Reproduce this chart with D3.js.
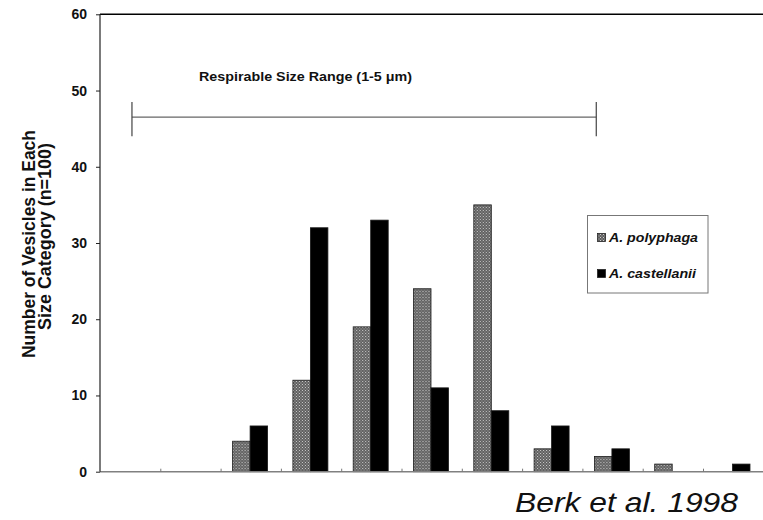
<!DOCTYPE html>
<html>
<head>
<meta charset="utf-8">
<script src="https://cdn.jsdelivr.net/npm/d3@7"></script>
<style>
  html, body { margin: 0; padding: 0; background: #fff; }
  svg { display: block; }
</style>
</head>
<body>
<svg id="chart" width="763" height="520"></svg>
<script>
// ---- data ----
const categories = ["1", "2", "3", "4", "5", "6", "7", "8", "9", "10", "11"];
const seriesNames = ["A. polyphaga", "A. castellanii"];
const polyphaga = [0, 0, 4, 12, 19, 24, 35, 3, 2, 1, 0];
const castellanii = [0, 0, 6, 32, 33, 11, 8, 6, 3, 0, 1];
const yTicks = [0, 10, 20, 30, 40, 50, 60];
const yLabelLines = ["Number of Vesicles in Each", "Size Category (n=100)"];
const rangeLabel = "Respirable Size Range (1-5 \u03BCm)";
const rangeBracket = [0.53, 8.23];   // in category-index units
const rangeLevel = 46.5;
const rangeTick = 2.5;
const citation = "Berk et al. 1998";

// ---- layout ----
const svg = d3.select("#chart");
const mLeft = 100, mRight = 763.3, mTop = 14.3, mBottom = 471.7;
const FONT = "Liberation Sans, Arial, sans-serif";

const y = d3.scaleLinear().domain([0, 60]).range([mBottom, mTop]);
const x0 = d3.scaleBand().domain(categories).range([mLeft, mRight]).paddingInner(0).paddingOuter(0);
const xLin = d3.scaleLinear().domain([0, categories.length]).range([mLeft, mRight]);
const x1 = d3.scaleBand().domain(seriesNames).range([12, 47]);

// pattern for stippled bars
const defs = svg.append("defs");
const pat = defs.append("pattern").attr("id", "stipple").attr("patternUnits", "userSpaceOnUse")
  .attr("width", 3).attr("height", 3);
pat.append("rect").attr("width", 3).attr("height", 3).attr("fill", "#5e5e5e");
pat.append("rect").attr("x", 0).attr("y", 0).attr("width", 1).attr("height", 1).attr("fill", "#cfcfcf");
pat.append("rect").attr("x", 1.5).attr("y", 1.5).attr("width", 1).attr("height", 1).attr("fill", "#bdbdbd");

const fills = { "A. polyphaga": "url(#stipple)", "A. castellanii": "#000" };
const seriesData = { "A. polyphaga": polyphaga, "A. castellanii": castellanii };

// top frame line
svg.append("line").attr("x1", mLeft).attr("x2", 763).attr("y1", y(60)).attr("y2", y(60))
  .attr("stroke", "#000").attr("stroke-width", 1.5);

// bars
const groups = svg.append("g").selectAll("g").data(categories).join("g")
  .attr("transform", d => `translate(${x0(d)},0)`);
groups.selectAll("rect")
  .data((d, i) => seriesNames.map(s => ({ s, v: seriesData[s][i] })).filter(o => o.v > 0))
  .join("rect")
  .attr("x", o => x1(o.s))
  .attr("width", x1.bandwidth())
  .attr("y", o => y(o.v))
  .attr("height", o => y(0) - y(o.v))
  .attr("fill", o => fills[o.s])
  .attr("stroke", "#1a1a1a")
  .attr("stroke-width", 0.8);

// x axis (ticks pointing up, no labels)
const xAxis = d3.axisBottom(xLin).tickValues(d3.range(1, categories.length)).tickSize(-3).tickFormat("");
const gx = svg.append("g").attr("transform", `translate(0,${y(0)})`).call(xAxis);
gx.select(".domain").attr("stroke", "#808080").attr("stroke-width", 1.5).attr("d", `M${mLeft},0H${mRight}`);
gx.selectAll(".tick line").attr("stroke", "#777");

// y axis
const yAxis = d3.axisLeft(y).tickValues(yTicks).tickSize(4).tickPadding(9).tickFormat(d3.format("d"));
const gy = svg.append("g").attr("transform", `translate(${mLeft},0)`).call(yAxis);
gy.select(".domain").attr("stroke", "#222").attr("stroke-width", 1.2).attr("d", `M0,${y(0)}V${y(60)}`);
gy.selectAll(".tick line").attr("stroke", "#222");
gy.selectAll(".tick text").attr("font-family", FONT)
  .attr("font-weight", "bold").attr("font-size", 14).attr("fill", "#111");

// y label
const yl = svg.append("g").attr("font-family", FONT)
  .attr("font-weight", "bold").attr("fill", "#111").attr("text-anchor", "middle");
yl.append("text").attr("transform", "translate(35,244) rotate(-90)").attr("font-size", 17.5)
  .attr("textLength", 228).attr("lengthAdjust", "spacingAndGlyphs").text(yLabelLines[0]);
yl.append("text").attr("transform", "translate(51,236.5) rotate(-90)").attr("font-size", 17.5)
  .attr("textLength", 187).attr("lengthAdjust", "spacingAndGlyphs").text(yLabelLines[1]);

// respirable range bracket
const br = svg.append("g").attr("stroke", "#444").attr("stroke-width", 1.2);
br.append("line").attr("x1", xLin(rangeBracket[0])).attr("x2", xLin(rangeBracket[1]))
  .attr("y1", y(rangeLevel)).attr("y2", y(rangeLevel)).attr("stroke", "#666");
rangeBracket.forEach(v => {
  br.append("line").attr("x1", xLin(v)).attr("x2", xLin(v))
    .attr("y1", y(rangeLevel + rangeTick * 0.8)).attr("y2", y(rangeLevel - rangeTick));
});
svg.append("text").attr("x", 199).attr("y", 80.7)
  .attr("font-family", FONT).attr("font-weight", "bold")
  .attr("font-size", 13).attr("textLength", 213).attr("lengthAdjust", "spacingAndGlyphs")
  .attr("fill", "#111").text(rangeLabel);

// legend
const lg = svg.append("g");
lg.append("rect").attr("x", 587.5).attr("y", 215.5).attr("width", 120.5).attr("height", 77.5)
  .attr("fill", "#fff").attr("stroke", "#777").attr("stroke-width", 1);
const legY = [242, 278];
seriesNames.forEach((s, i) => {
  lg.append("rect").attr("x", 597.5).attr("y", legY[i] - 8.5).attr("width", 8).attr("height", 8)
    .attr("fill", fills[s]).attr("stroke", "#222").attr("stroke-width", 0.8);
  lg.append("text").attr("x", 609).attr("y", legY[i])
    .attr("font-family", FONT).attr("font-weight", "bold")
    .attr("font-style", "italic").attr("font-size", 13.5)
    .attr("textLength", i === 0 ? 89 : 87).attr("lengthAdjust", "spacingAndGlyphs")
    .attr("fill", "#111").text(s);
});

// citation
svg.append("text").attr("x", 515).attr("y", 512)
  .attr("font-family", FONT).attr("font-style", "italic")
  .attr("font-size", 27).attr("textLength", 223).attr("lengthAdjust", "spacingAndGlyphs")
  .attr("fill", "#111").text(citation);
</script>
</body>
</html>
